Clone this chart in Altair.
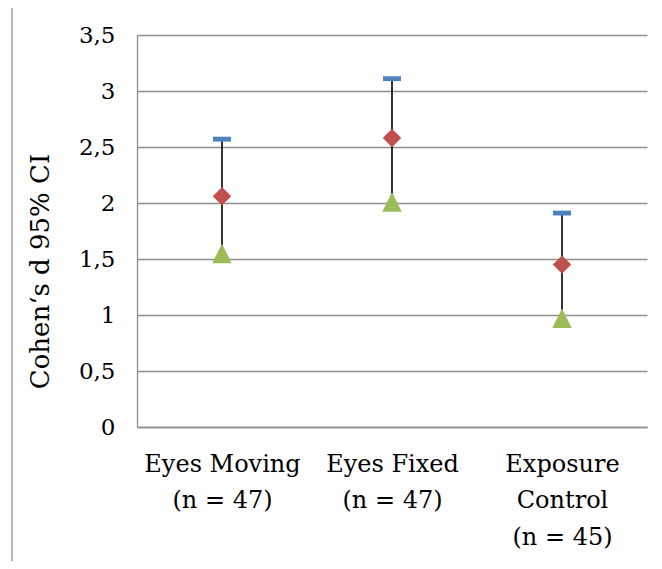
import altair as alt
import pandas as pd

categories = ["Eyes Moving|(n = 47)", "Eyes Fixed|(n = 47)", "Exposure|Control|(n = 45)"]
high = [2.57, 3.11, 1.91]
close = [2.06, 2.58, 1.45]
low = [1.55, 2.01, 0.97]
y_ticks = [0, 0.5, 1, 1.5, 2, 2.5, 3, 3.5]

df = pd.DataFrame({"cat": categories, "high": high, "close": close, "low": low})

FONT = "DejaVu Serif"
GRID = "#8E8E8E"


def xenc():
    return alt.X(
        "cat:N",
        sort=categories,
        scale=alt.Scale(type="point", padding=0.5),
        axis=alt.Axis(
            title=None, labelAngle=0, labelExpr="split(datum.label, '|')",
            labelFont=FONT, labelFontSize=24, labelLineHeight=36.5,
            labelPadding=25, labelBaseline="top", labelColor="black",
            labelLimit=400, ticks=False, domain=True, domainColor=GRID,
            domainWidth=1.3, grid=False,
        ),
    )


def yenc(field):
    return alt.Y(
        field + ":Q",
        scale=alt.Scale(domain=[0, 3.5], nice=False, zero=True),
        axis=alt.Axis(
            values=y_ticks,
            labelExpr="replace(format(datum.value, '~g'), '.', ',')",
            labelFont=FONT, labelFontSize=23, labelColor="black",
            labelPadding=22, ticks=False, domain=True, domainColor=GRID,
            domainWidth=1.3, grid=True, gridColor=GRID, gridWidth=1.3,
            title="Cohen‘s d 95% CI", titleFont=FONT, titleFontSize=26,
            titleFontWeight="normal", titleColor="black", titleAngle=270,
            titleX=-97, titleY=236, titleAlign="center", titleBaseline="middle",
        ),
    )


base = alt.Chart(df)

rules = base.mark_rule(color="black", strokeWidth=1.6).encode(
    x=xenc(), y=yenc("low"), y2="high:Q"
)
highs = base.mark_point(
    shape="M-1,-0.27L1,-0.27L1,0.27L-1,0.27Z", filled=True, opacity=1,
    color="#4F81BD", size=324, strokeWidth=0,
).encode(x=xenc(), y=yenc("high"))
closes = base.mark_point(
    shape="diamond", filled=True, opacity=1, color="#C0504D", size=340, strokeWidth=0,
).encode(x=xenc(), y=yenc("close"))
lows = base.mark_point(
    shape="M0,-1L1,1L-1,1Z", filled=True, opacity=1, color="#9BBB59", size=380, strokeWidth=0,
).encode(x=xenc(), y=yenc("low"))

frame = alt.Chart(alt.Data(values=[{"a": 1}])).mark_rect(
    filled=False, stroke="#8E8E8E", strokeWidth=1.3
).encode(x=alt.value(-125), x2=alt.value(700), y=alt.value(-29), y2=alt.value(800))

chart = alt.layer(frame, rules, highs, closes, lows).properties(
    width=510,
    height=392,
    autosize=alt.AutoSizeParams(type="none"),
    padding={"left": 129, "top": 27, "right": 7, "bottom": 134},
    background="white",
).configure_view(stroke=None)

chart.save("out.html", embed_options={"renderer": "svg", "actions": False})
